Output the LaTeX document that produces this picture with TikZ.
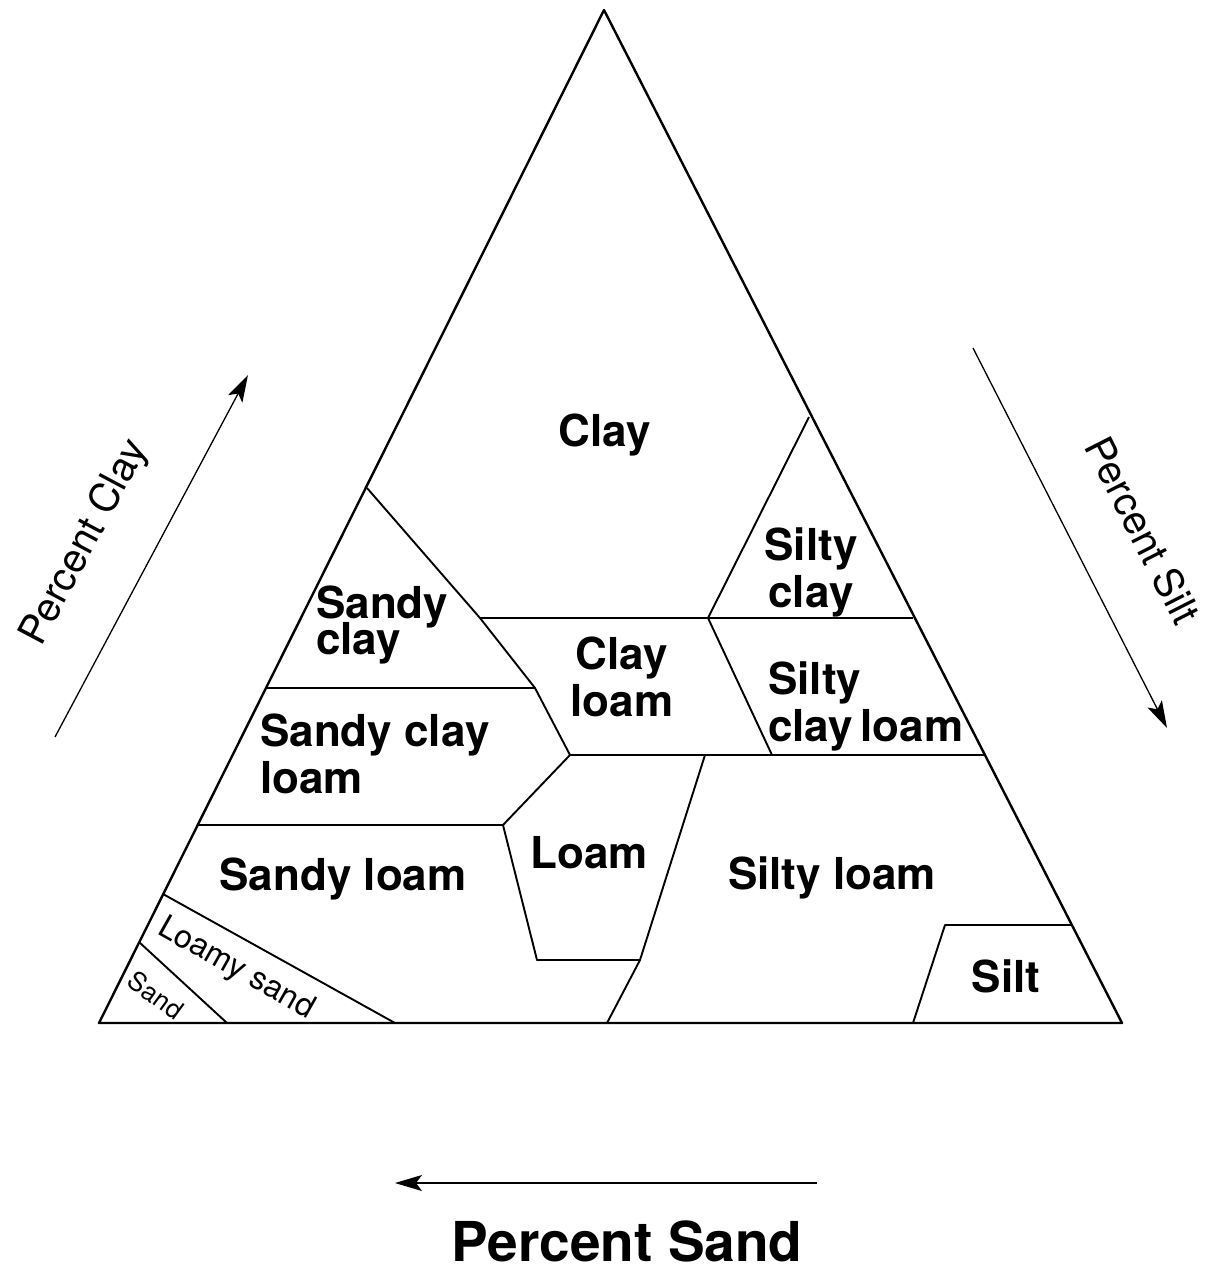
\documentclass[tikz,border=0pt]{standalone}
\usepackage{fontspec}
\setmainfont{TeX Gyre Heros}
\usetikzlibrary{arrows.meta}
\begin{document}
\begin{tikzpicture}[x=1pt,y=-1pt,
  edge/.style={line width=2.4pt, line join=round},
  part/.style={line width=1.9pt, line join=round},
  axis/.style={line width=1.3pt, -{Stealth[length=27pt,width=16pt,inset=6pt]}},
  lab/.style={font=\bfseries\fontsize{44}{47}\selectfont, inner sep=0pt},
  thin/.style={font=\fontsize{32}{34}\selectfont, inner sep=0pt},
  axlab/.style={font=\fontsize{40}{42}\selectfont, inner sep=0pt}]
\useasboundingbox (0,0) rectangle (1221,1270);
% triangle corners
\coordinate (A) at (604,10);
\coordinate (B) at (99,1023);
\coordinate (C) at (1122,1023);
\draw[edge] (A) -- (B) -- (C) -- cycle;
% boundary points
\coordinate (p1) at (367,488);
\coordinate (p2) at (480,618);
\coordinate (p3) at (535,688);
\coordinate (p4) at (570,755);
\coordinate (p5) at (503,825);
\coordinate (q1) at (809,417);
\coordinate (q2) at (708,618);
\coordinate (q3) at (772,755);
\coordinate (r1) at (913,618);
\coordinate (r2) at (985,755);
\coordinate (l1) at (266,688);
\coordinate (l2) at (198,825);
\coordinate (m1) at (537,960);
\coordinate (m2) at (640,960);
\coordinate (m3) at (705,755);
\coordinate (m4) at (607,1023);
\coordinate (s1) at (913,1023);
\coordinate (s2) at (945,925);
\coordinate (s3) at (1072,925);
\coordinate (t1) at (163,894);
\coordinate (t2) at (395,1023);
\coordinate (u1) at (139,942);
\coordinate (u2) at (227,1023);
% region boundaries
\draw[part] (p1) -- (p2) -- (p3) -- (p4) -- (p5);
\draw[part] (p2) -- (r1);
\draw[part] (q1) -- (q2) -- (q3);
\draw[part] (l1) -- (p3);
\draw[part] (p4) -- (r2);
\draw[part] (l2) -- (p5);
\draw[part] (p5) -- (m1) -- (m2);
\draw[part] (m3) -- (m2) -- (m4);
\draw[part] (s1) -- (s2) -- (s3);
\draw[part] (t1) -- (t2);
\draw[part] (u1) -- (u2);
% labels
\node[lab, anchor=base] (clay) at (605,446) {Clay};
\node[lab, anchor=north west, align=left] (sandyclay) at (316,586) {Sandy\\[-11pt]clay};
\node[lab, anchor=north, align=center] (siltyclay) at (811,528) {Silty\\clay};
\node[lab, anchor=north, align=center] (clayloam) at (622,637) {Clay\\loam};
\node[lab, anchor=north west, align=left] (siltyclayloam) at (768,662) {Silty\\clay\,loam};
\node[lab, anchor=north west, align=left] (sandyclayloam) at (260,714) {Sandy clay\\loam};
\node[lab, anchor=base] (sandyloam) at (343,890) {Sandy loam};
\node[lab, anchor=base] (loam) at (589,868) {Loam};
\node[lab, anchor=base] (siltyloam) at (832,889) {Silty loam};
\node[lab, anchor=base] (silt) at (1006,992) {Silt};
\node[thin, rotate=-29.5] (loamysand) at (236,969) {Loamy sand};
\node[thin, font=\fontsize{26}{28}\selectfont, rotate=-36] (sand) at (156,995) {Sand};
% axes
\coordinate (ca) at (55,737);
\coordinate (cb) at (248,375);
\draw[axis] (ca) -- (cb);
\node[axlab, rotate=62] (pclay) at (85,543) {Percent Clay};
\coordinate (sa) at (973,348);
\coordinate (sb) at (1167,728);
\draw[axis] (sa) -- (sb);
\node[axlab, rotate=-63] (psilt) at (1143,530) {Percent Silt};
\coordinate (da) at (817,1183);
\coordinate (db) at (395,1183);
\draw[axis] (da) -- (db);
\node[font=\bfseries\fontsize{55}{58}\selectfont, inner sep=0pt, anchor=base] (psand) at (627,1261) {Percent Sand};
\end{tikzpicture}
\end{document}
